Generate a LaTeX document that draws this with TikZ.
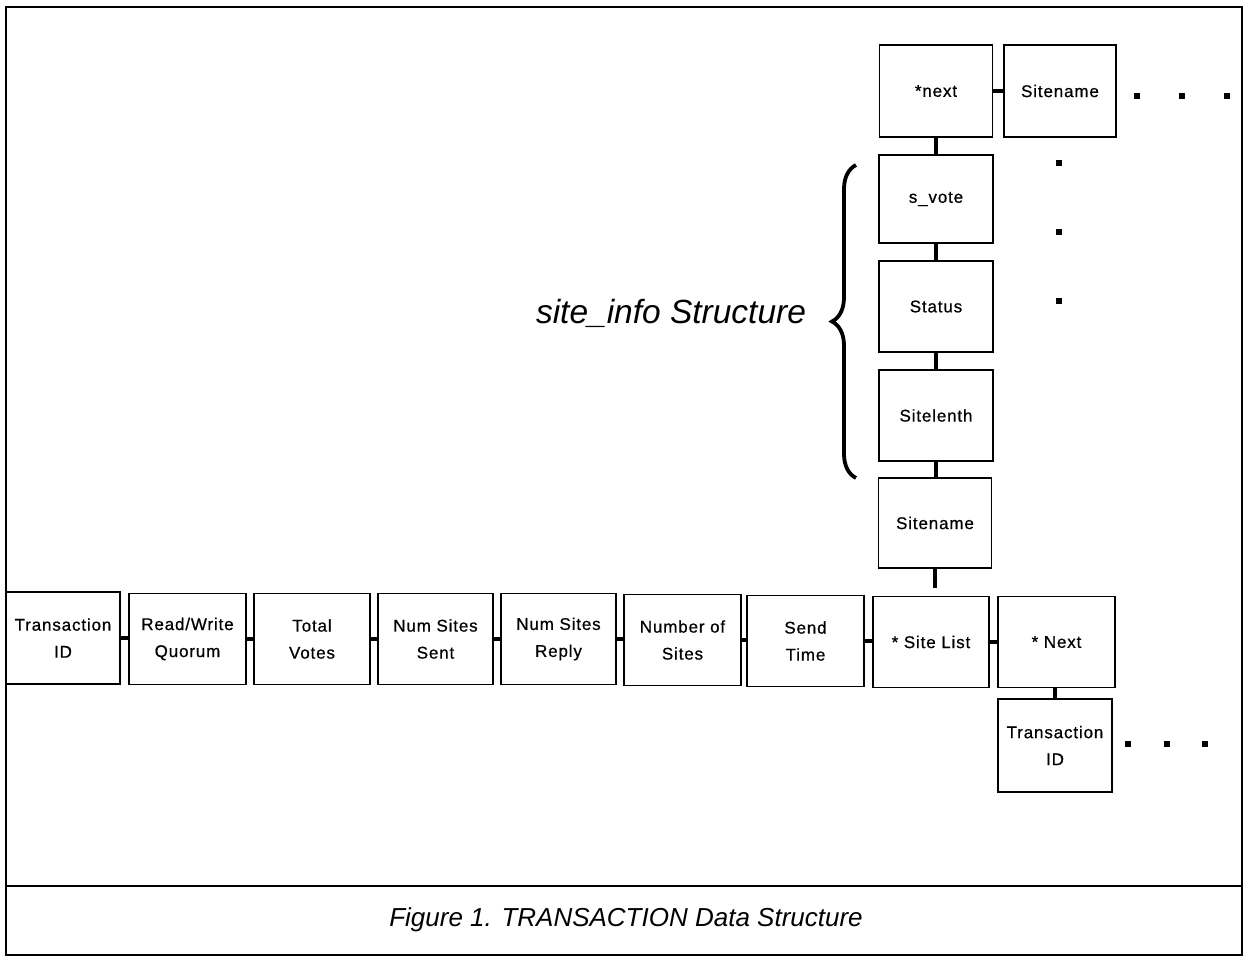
\documentclass[tikz,border=0pt]{standalone}
\usepackage{fontspec}
\setmainfont{Liberation Sans}
\newfontfamily\cellfont[LetterSpace=5,FakeBold=0.6]{Liberation Sans}
\usetikzlibrary{decorations.pathreplacing}
\begin{document}
\begin{tikzpicture}[x=1pt,y=-1pt,
  cell/.style={draw, line width=1.8pt, inner sep=0pt, align=center,
    minimum width=115pt, minimum height=91pt,
    font=\cellfont\fontsize{17}{27}\selectfont},
  link/.style={line width=4pt},
  frame/.style={line width=2.8pt},
  dotmark/.style={fill, inner sep=0pt, minimum size=5.5pt}]
\useasboundingbox (0,0) rectangle (1248,958);
% frame
\draw[frame] (6,7) rectangle (1242,955);
\draw[frame] (6,886) -- (1242,886);
% bottom row
\node[cell, minimum width=114pt, minimum height=92pt] (tid) at (63,638) {Transaction\\ID};
\node[cell, minimum width=117pt] (rw) at (187.5,639) {Read/Write\\Quorum};
\node[cell, minimum width=116pt] (tv) at (312,639) {Total\\Votes};
\node[cell] (nss) at (435.5,639) {Num Sites\\Sent};
\node[cell] (nsr) at (558.5,639) {Num Sites\\Reply};
\node[cell, minimum width=117pt] (nos) at (682.5,640) {Number of\\Sites};
\node[cell, minimum width=117pt] (st) at (805.5,641) {Send\\Time};
\node[cell, minimum width=116pt] (sl) at (931,642) {* Site List};
\node[cell, minimum width=117pt] (nx) at (1056.5,642) {* Next};
\node[cell, minimum width=114pt, minimum height=93pt] (tid2) at (1055,745.5) {Transaction\\ID};
% column
\node[cell, minimum width=113pt, minimum height=90pt] (sn) at (935,523) {Sitename};
\node[cell, minimum width=114pt, minimum height=91pt] (sl2) at (936,415.5) {Sitelenth};
\node[cell, minimum width=114pt, minimum height=91pt] (stat) at (936,306.5) {Status};
\node[cell, minimum width=114pt, minimum height=88pt] (sv) at (936,199) {s\_vote};
\node[cell, minimum width=113pt, minimum height=92pt] (nxt) at (936,91) {*next};
\node[cell, minimum width=112pt, minimum height=92pt] (sn2) at (1060,91) {Sitename};
% connectors
\draw[link] (tid.east) -- (tid.east -| rw.west);
\draw[link] (rw.east) -- (rw.east -| tv.west);
\draw[link] (tv.east) -- (tv.east -| nss.west);
\draw[link] (nss.east) -- (nss.east -| nsr.west);
\draw[link] (nsr.east) -- (nsr.east -| nos.west);
\draw[link] (nos.east) -- (nos.east -| st.west);
\draw[link] (st.east) -- (st.east -| sl.west);
\draw[link] (sl.east) -- (nx.west);
\draw[link] (nx.south -| tid2.north) -- (tid2.north);
\coordinate (slstub) at (935,588);
\draw[link] (sn.south) -- (slstub);
\draw[link] (sl2.south) -- (sn.north -| sl2.south);
\draw[link] (stat.south) -- (sl2.north);
\draw[link] (sv.south) -- (stat.north);
\draw[link] (nxt.south) -- (sv.north);
\draw[link] (nxt.east) -- (sn2.west);
% dots
\foreach \x/\y [count=\i] in {1137/96,1182/96,1227/96,1059/163,1059/232,1059/301,1128/744,1167/744,1205/744}
  \node[dotmark] (d\i) at (\x,\y) {};
% brace and label
\draw[line width=3.8pt, decorate, decoration={brace, amplitude=24pt}] (856,478) -- (856,165);
\node[font=\itshape\fontsize{33.5}{36}\selectfont] (lbl) at (671,313) {site\_info Structure};
% caption
\node[font=\itshape\fontsize{26}{30}\selectfont] (cap) at (626,920) {Figure 1. TRANSACTION Data Structure};
\end{tikzpicture}
\end{document}
